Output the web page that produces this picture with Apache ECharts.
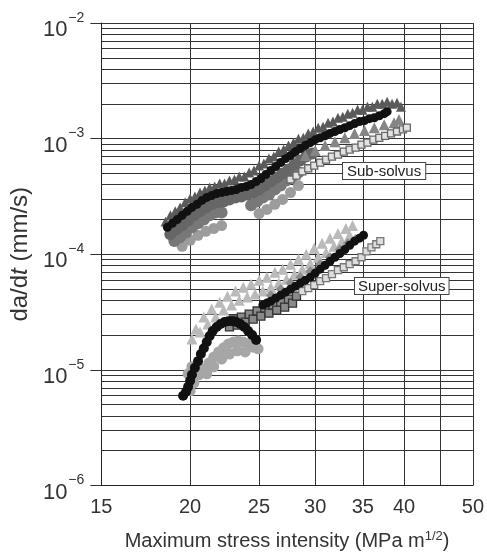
<!DOCTYPE html>
<html><head><meta charset="utf-8">
<script src="https://cdn.jsdelivr.net/npm/echarts@6/dist/echarts.min.js"></script>
<style>html,body{margin:0;padding:0;background:#fff}#c{width:487px;height:556px}</style>
</head><body><div id="c"></div>
<script>
// ---- axis tick values ----
const xTickLabels = [15, 20, 25, 30, 35, 40, 50];
const xGridValues = [15, 20, 25, 30, 35, 40, 45, 50];
const yDecades = [-6, -5, -4, -3, -2];

// ---- data: [K (MPa m^1/2), da/dt (mm/s)] ----
// Sub-solvus
const subBlack = [[18.58,1.71e-4],[18.88,1.85e-4],[19.18,2.00e-4],[19.49,2.17e-4],[19.81,2.35e-4],[20.12,2.54e-4],[20.45,2.70e-4],[20.78,2.92e-4],[21.11,3.10e-4],[21.45,3.22e-4],[21.80,3.35e-4],[22.15,3.42e-4],[22.50,3.49e-4],[22.87,3.56e-4],[23.23,3.63e-4],[23.61,3.78e-4],[23.99,3.85e-4],[24.37,4.01e-4],[24.77,4.26e-4],[25.16,4.52e-4],[25.57,4.89e-4],[25.98,5.30e-4],[26.40,5.74e-4],[26.82,6.21e-4],[27.25,6.73e-4],[27.69,7.13e-4],[28.14,7.73e-4],[28.59,8.21e-4],[29.05,8.70e-4],[29.52,9.23e-4],[30.00,9.80e-4],[30.48,1.017e-3],[30.97,1.058e-3],[31.47,1.109e-3],[31.98,1.153e-3],[32.49,1.20e-3],[33.02,1.243e-3],[33.54,1.294e-3],[34.08,1.349e-3],[34.63,1.403e-3],[35.19,1.431e-3],[35.76,1.488e-3],[36.33,1.517e-3],[36.92,1.578e-3],[37.51,1.645e-3],[37.87,1.711e-3]];
const subTri = [[18.47,1.92e-4],[18.76,2.17e-4],[19.06,2.35e-4],[19.36,2.54e-4],[19.68,2.81e-4],[20.00,3.04e-4],[20.31,3.16e-4],[20.65,3.42e-4],[20.98,3.56e-4],[21.31,3.78e-4],[21.66,3.85e-4],[22.01,4.09e-4],[22.36,4.09e-4],[22.72,4.34e-4],[23.09,4.43e-4],[23.45,4.70e-4],[23.84,4.70e-4],[24.22,5.10e-4],[24.60,5.30e-4],[25.01,5.85e-4],[25.40,6.09e-4],[25.82,6.73e-4],[26.23,7.00e-4],[26.65,7.73e-4],[27.08,8.04e-4],[27.51,8.70e-4],[27.96,9.23e-4],[28.41,9.98e-4],[28.86,1.017e-3],[29.33,1.109e-3],[29.80,1.153e-3],[30.29,1.243e-3],[30.77,1.269e-3],[31.27,1.375e-3],[31.77,1.403e-3],[32.29,1.517e-3],[32.80,1.547e-3],[33.34,1.645e-3],[33.86,1.677e-3],[34.41,1.78e-3],[34.96,1.78e-3],[35.53,1.884e-3],[36.10,1.884e-3],[36.68,2.005e-3],[37.27,2.005e-3],[37.87,2.085e-3],[38.48,2.005e-3],[39.10,2.044e-3],[39.60,1.884e-3]];
const subGrayA = [[18.76,1.49e-4],[19.12,1.64e-4],[19.49,1.77e-4],[19.87,1.96e-4],[20.25,2.17e-4],[20.65,2.35e-4],[21.05,2.54e-4],[21.45,2.70e-4],[21.87,2.81e-4],[22.29,2.86e-4],[22.72,2.98e-4],[23.17,3.10e-4],[23.61,3.16e-4],[24.07,3.29e-4],[24.53,3.42e-4],[25.01,3.63e-4],[25.48,3.93e-4],[25.98,4.26e-4],[26.48,4.61e-4],[26.99,5.00e-4],[27.51,5.41e-4],[28.05,5.97e-4],[28.59,6.46e-4],[29.14,7.00e-4],[29.71,7.43e-4]];
const subGrayB = [[19.00,1.30e-4],[19.36,1.40e-4],[19.74,1.54e-4],[20.12,1.71e-4],[20.52,1.85e-4],[20.91,2.00e-4],[21.31,2.17e-4],[21.73,2.30e-4],[22.15,2.30e-4],[24.37,2.65e-4],[24.85,2.86e-4],[25.32,3.10e-4],[25.82,3.29e-4],[26.32,3.63e-4],[26.82,3.93e-4],[27.34,4.34e-4],[27.87,4.70e-4],[28.41,5.10e-4]];
const subLight = [[19.49,1.17e-4],[20.00,1.32e-4],[20.52,1.46e-4],[21.05,1.58e-4],[21.59,1.67e-4],[22.15,1.77e-4],[25.01,2.25e-4],[25.65,2.44e-4],[26.32,2.70e-4],[26.99,2.98e-4],[27.69,3.42e-4],[28.41,3.93e-4]];
const subSquares = [[27.69,4.43e-4],[28.23,4.79e-4],[28.77,5.20e-4],[29.33,5.52e-4],[29.90,5.85e-4],[30.48,6.21e-4],[31.07,6.59e-4],[31.67,7.00e-4],[32.29,7.28e-4],[32.91,7.73e-4],[33.54,8.04e-4],[34.19,8.36e-4],[34.85,8.88e-4],[35.53,9.23e-4],[36.22,9.80e-4],[36.92,1.017e-3],[37.63,1.058e-3],[38.35,1.109e-3],[39.10,1.153e-3],[39.86,1.20e-3],[40.37,1.243e-3]];
const subMid = [[29.05,7.13e-4],[30.00,7.88e-4],[30.97,8.70e-4],[31.98,9.42e-4],[33.02,1.017e-3],[34.08,1.109e-3],[35.19,1.176e-3],[36.33,1.243e-3],[37.51,1.32e-3],[38.73,1.375e-3],[39.35,1.46e-3]];

// Super-solvus
const supHook = [[19.55,5.97e-6],[19.74,6.46e-6],[19.87,7.13e-6],[20.00,8.04e-6],[20.12,9.06e-6],[20.31,1.044e-5],[20.52,1.19e-5],[20.71,1.37e-5],[20.91,1.54e-5],[21.11,1.74e-5],[21.31,1.96e-5],[21.52,2.17e-5],[21.80,2.35e-5],[22.08,2.49e-5],[22.36,2.59e-5],[22.64,2.64e-5],[22.94,2.64e-5],[23.23,2.59e-5],[23.53,2.49e-5],[23.84,2.35e-5],[24.14,2.17e-5],[24.45,2.00e-5],[24.77,1.81e-5]];
const supBlack = [[25.32,3.64e-5],[25.65,3.78e-5],[25.98,3.93e-5],[26.40,4.18e-5],[26.82,4.43e-5],[27.25,4.70e-5],[27.69,4.99e-5],[28.14,5.30e-5],[28.59,5.63e-5],[29.05,5.97e-5],[29.52,6.33e-5],[30.00,6.87e-5],[30.48,7.43e-5],[30.97,8.04e-5],[31.47,8.70e-5],[31.98,9.42e-5],[32.49,1.016e-4],[33.02,1.10e-4],[33.54,1.196e-4],[34.08,1.297e-4],[34.63,1.377e-4],[35.08,1.46e-4]];
const supDarkSq = [[22.72,2.35e-5],[23.02,2.70e-5],[23.30,2.44e-5],[23.61,2.86e-5],[23.91,2.59e-5],[24.22,3.04e-5],[24.53,2.75e-5],[24.85,3.23e-5],[25.16,2.92e-5],[25.48,3.43e-5],[25.82,3.10e-5],[26.15,3.64e-5],[26.48,3.29e-5],[26.82,3.85e-5],[27.17,3.49e-5],[27.51,4.09e-5],[27.87,3.78e-5],[28.23,4.34e-5]];
const supSquares = [[28.77,4.80e-5],[29.33,5.09e-5],[29.90,5.40e-5],[30.48,5.85e-5],[31.07,6.21e-5],[31.67,6.72e-5],[32.29,7.28e-5],[32.91,7.72e-5],[33.54,8.20e-5],[34.19,8.70e-5],[34.85,9.42e-5],[35.42,1.057e-4],[35.99,1.149e-4],[36.56,1.22e-4],[37.04,1.297e-4]];
const supLight = [[20.38,2.26e-5],[20.91,2.86e-5],[21.45,3.36e-5],[22.01,3.85e-5],[22.57,4.34e-5],[23.17,4.80e-5],[23.76,5.19e-5],[24.37,5.51e-5],[25.01,5.97e-5],[25.65,6.33e-5],[26.32,7.00e-5],[26.99,7.43e-5],[27.69,8.20e-5],[28.41,9.05e-5],[29.14,1.00e-4],[29.90,1.127e-4],[30.68,1.247e-4],[31.47,1.377e-4],[32.29,1.515e-4],[33.13,1.672e-4],[33.86,1.774e-4],[20.12,1.85e-5],[20.65,2.13e-5],[21.18,2.49e-5],[21.73,2.86e-5],[22.29,3.29e-5],[22.87,3.64e-5],[23.45,4.01e-5],[24.07,4.26e-5],[24.68,4.52e-5],[25.32,4.80e-5],[25.98,5.19e-5],[26.65,5.63e-5],[27.34,6.09e-5],[28.05,6.72e-5],[28.77,7.43e-5],[29.52,8.36e-5],[30.29,9.42e-5],[31.07,1.036e-4],[31.88,1.17e-4],[32.70,1.297e-4],[33.54,1.46e-4]];
const supMid = [[25.98,4.43e-5],[26.82,4.99e-5],[27.69,5.63e-5],[28.59,6.33e-5],[29.52,7.14e-5],[30.48,8.20e-5],[31.47,9.42e-5],[32.49,1.10e-4],[33.34,1.247e-4],[34.19,1.35e-4]];
const supUnder = [[20.00,6.59e-6],[20.25,7.73e-6],[20.58,9.06e-6],[20.91,1.02e-5],[21.25,1.146e-5],[21.59,1.29e-5],[21.94,1.43e-5],[22.29,1.55e-5],[22.64,1.67e-5],[23.02,1.74e-5],[23.38,1.78e-5],[23.76,1.74e-5],[24.14,1.67e-5],[24.53,1.57e-5],[24.93,1.52e-5],[21.11,9.24e-6],[21.59,1.064e-5],[22.15,1.24e-5],[22.72,1.37e-5],[23.30,1.46e-5],[23.91,1.43e-5],[19.87,9.24e-6],[20.12,1.064e-5]];

// ---- helpers: both axes are logarithmic (log10 transform) ----
const L = Math.log10;
const toXY = arr => arr.map(p => [L(p[0]), L(p[1])]);
const yGridValues = [];
yDecades.forEach(d => { if (d < -2) { for (let k = 1; k <= 9; k++) yGridValues.push(d + L(k)); } else yGridValues.push(d); });

const FONT = 'Liberation Sans, Arial, Helvetica, sans-serif';
function sc(name, data, symbol, size, color, extra) {
  const s = {
    name, type: 'scatter', data: toXY(data), symbol, symbolSize: size,
    itemStyle: { color: color, opacity: 1 }, animation: false, silent: true
  };
  if (extra) s.itemStyle = Object.assign(s.itemStyle, extra);
  return s;
}

const chart = echarts.init(document.getElementById('c'), null, { renderer: 'canvas' });
chart.setOption({
  backgroundColor: '#fff',
  animation: false,
  grid: { left: 98, right: 12, top: 23, bottom: 69, containLabel: false },
  xAxis: {
    type: 'value', min: L(15), max: L(50),
    axisLine: { show: true, lineStyle: { color: '#222', width: 1 } },
    axisTick: { show: false, customValues: xGridValues.map(L) },
    splitLine: { show: true, lineStyle: { color: '#333', width: 1 } },
    axisLabel: {
      customValues: xTickLabels.map(L),
      formatter: v => String(Math.round(Math.pow(10, v))),
      fontSize: 20, color: '#333', margin: 12, fontFamily: FONT
    },
    name: 'Maximum stress intensity (MPa m{s|1/2})',
    nameLocation: 'middle', nameGap: 44,
    nameTextStyle: { fontSize: 20, color: '#333', fontFamily: FONT,
      rich: { s: { fontSize: 13, color: '#333', fontFamily: FONT, padding: [0, 0, 10, 0] } } }
  },
  yAxis: [{
    type: 'value', min: -6, max: -2,
    axisLine: { show: true, lineStyle: { color: '#222', width: 1 } },
    axisTick: { show: true, length: 11, customValues: yDecades, lineStyle: { color: '#333' } },
    splitLine: { show: false },
    axisLabel: {
      customValues: yDecades,
      margin: 17,
      formatter: v => '{b|10}{s|\u2212' + Math.abs(Math.round(v)) + '}',
      rich: {
        b: { fontSize: 22, color: '#333', fontFamily: FONT, padding: [14, 0, 0, 0] },
        s: { fontSize: 14, color: '#333', fontFamily: FONT, padding: [0, 0, 10, 1] }
      }
    },
    name: 'da/d{i|t} (mm/s)',
    nameLocation: 'middle', nameGap: 67,
    nameTextStyle: { fontSize: 24, color: '#333', fontFamily: FONT,
      rich: { i: { fontSize: 24, fontStyle: 'italic', color: '#333', fontFamily: FONT } } }
  }, {
    type: 'value', min: -6, max: -2, position: 'left',
    axisLine: { show: false }, axisLabel: { show: false },
    axisTick: { show: false, customValues: yGridValues },
    splitLine: { show: true, lineStyle: { color: '#333', width: 1 } }
  }],
  series: [
    sc('subLight', subLight, 'circle', 11, '#9c9c9c'),
    sc('subGrayB', subGrayB, 'circle', 12, '#787878'),
    sc('subGrayA', subGrayA, 'circle', 12, '#666666'),
    sc('subMid', subMid, 'triangle', 11, '#858585'),
    sc('subTri', subTri, 'triangle', 10, '#5a5a5a'),
    sc('subSquares', subSquares, 'rect', 7, '#e2e2e2', { borderColor: '#666', borderWidth: 1.3 }),
    sc('subBlack', subBlack, 'circle', 9, '#111'),
    sc('supUnder', supUnder, 'circle', 11, '#a6a6a6'),
    sc('supLight', supLight, 'triangle', 11, '#bababa'),
    sc('supMid', supMid, 'diamond', 10, '#8c8c8c'),
    sc('supDarkSq', supDarkSq, 'rect', 8, '#8a8a8a', { borderColor: '#333', borderWidth: 1.3 }),
    sc('supSquares', supSquares, 'rect', 7, '#dddddd', { borderColor: '#777', borderWidth: 1.3 }),
    sc('supHook', supHook, 'circle', 10, '#111'),
    sc('supBlack', supBlack, 'circle', 9, '#111')
  ],
  graphic: [
    { type: 'text', left: 342, top: 162, z: 100,
      style: { text: 'Sub-solvus', font: '15px ' + FONT, fill: '#222', backgroundColor: '#fff', borderColor: '#444', borderWidth: 1, padding: [1, 4, 0, 4] } },
    { type: 'text', left: 354, top: 277, z: 100,
      style: { text: 'Super-solvus', font: '15px ' + FONT, fill: '#222', backgroundColor: '#fff', borderColor: '#444', borderWidth: 1, padding: [1, 3, 0, 3] } }
  ]
});
</script></body></html>
